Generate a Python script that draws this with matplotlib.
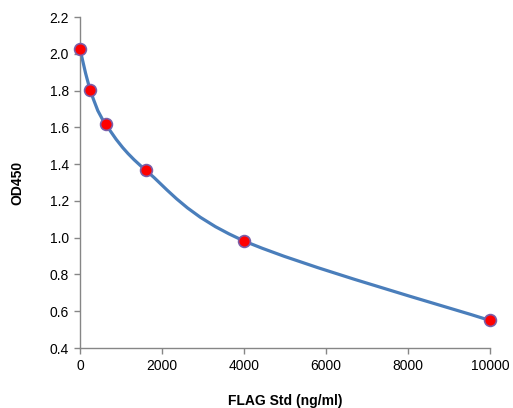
import matplotlib
matplotlib.use("Agg")
import matplotlib.pyplot as plt
import numpy as np
from matplotlib.path import Path
from matplotlib.patches import PathPatch

conc = [0, 250, 625, 1600, 4000, 10000]
od = [2.025, 1.805, 1.618, 1.368, 0.983, 0.55]
xticks = [0, 2000, 4000, 6000, 8000, 10000]
yticks = [0.4, 0.6, 0.8, 1.0, 1.2, 1.4, 1.6, 1.8, 2.0, 2.2]

plt.rcParams['font.family'] = ['Liberation Sans', 'DejaVu Sans']

fig = plt.figure(figsize=(5.13, 4.08), dpi=100)
ax = fig.add_axes([0.156, 0.147, 0.799, 0.811])

# Excel-style smoothed line (Bezier through points)
P = np.column_stack([conc, od]).astype(float)
n = len(P)
verts = [P[0]]
codes = [Path.MOVETO]
for i in range(n - 1):
    p0 = P[i - 1] if i > 0 else P[i]
    p1 = P[i]
    p2 = P[i + 1]
    p3 = P[i + 2] if i + 2 < n else P[i + 1]
    c1 = p1 + (p2 - p0) / 6.0
    c2 = p2 - (p3 - p1) / 6.0
    verts += [c1, c2, p2]
    codes += [Path.CURVE4] * 3
patch = PathPatch(Path(verts, codes), facecolor='none', edgecolor='#4a7ebb', lw=2.3, capstyle='round', zorder=2)
ax.add_patch(patch)

ax.plot(conc, od, linestyle='none', marker='o', markersize=8.5, markerfacecolor='#ff0000',
        markeredgecolor='#7b5ea8', markeredgewidth=1.2, zorder=3, clip_on=False)

ax.set_xlim(0, 10000)
ax.set_ylim(0.4, 2.2)
ax.set_xticks(xticks)
ax.set_yticks(yticks)
ax.set_yticklabels([f"{v:.1f}" for v in yticks])
for s in ['top', 'right']:
    ax.spines[s].set_visible(False)
for s in ['left', 'bottom']:
    ax.spines[s].set_color('#868686')
    ax.spines[s].set_linewidth(1.0)
ax.tick_params(direction='out', length=4, width=1, color='#868686', labelsize=10, labelcolor='black', pad=4)
ax.set_xlabel('FLAG Std (ng/ml)', fontsize=10, fontweight='bold', labelpad=15)
ax.set_ylabel('OD450', fontsize=10, fontweight='bold', labelpad=18)

fig.savefig('out.png', dpi=100)
